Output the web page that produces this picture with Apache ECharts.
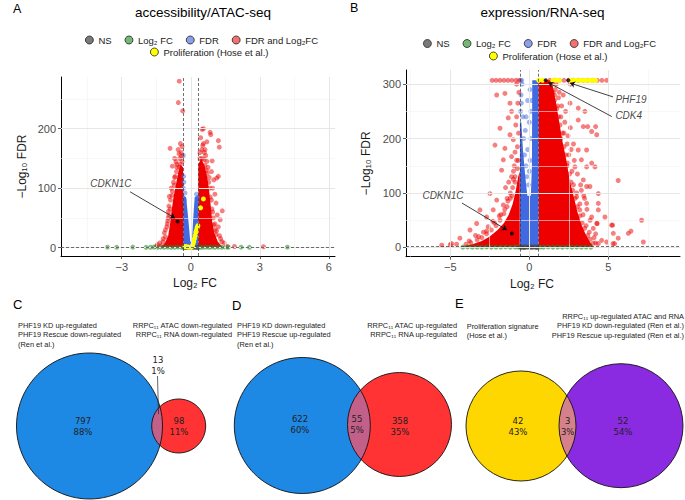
<!DOCTYPE html>
<html><head><meta charset="utf-8">
<script src="https://cdn.jsdelivr.net/npm/echarts@6/dist/echarts.min.js"></script>
<style>html,body{margin:0;padding:0;background:#fff}#c{width:685px;height:500px}</style>
</head><body><div id="c"></div>
<script>
// ---------------- categories ----------------
const CAT_NS = 'NS', CAT_FC = 'Log₂ FC', CAT_FDR = 'FDR', CAT_BOTH = 'FDR and Log₂FC', CAT_PRO = 'Proliferation (Hose et al.)';

// ---------------- Panel A: ATAC-seq (x = log2FC, y = -log10 FDR) ----------------
const atacXTicks = [-3, 0, 3, 6];
const atacYTicks = [0, 100, 200];
const atacFcCut = 0.33;
// dense cores (outline of the solid cloud)
const atacRedCore = [
  [[0.33,1.3],[0.33,140],[0.45,150],[0.6,138],[0.72,118],[0.8,95],[0.87,70],[0.93,45],[1.02,25],[1.18,10],[1.38,1.3]],
  [[-0.33,1.3],[-0.33,135],[-0.45,140],[-0.55,125],[-0.65,105],[-0.75,85],[-0.84,60],[-0.9,40],[-0.98,20],[-1.12,8],[-1.3,1.3]]
];
const atacBlueCore = [
  [[-0.33,1.3],[-0.33,88],[-0.2,85],[-0.1,45],[-0.02,10],[0.05,10],[0.1,45],[0.17,85],[0.33,88],[0.33,1.3]]
];
const atacRed = [[-0.5,280],[-0.54,244],[-0.35,230],[0.49,199],[0.55,200],[0.84,194],[0.87,190],[1.2,180],[1.24,169],[0.52,172],[-0.9,167],[0.59,160],[-0.51,158],[-0.4,154],[-0.64,144],[0.93,146],[0.9,128],[1.2,120],[1.13,117],[-0.8,137],[-0.5,135],[1.0,114],[-0.93,86],[1.37,62],[-0.97,61],[-1.04,35],[-1.1,18],[1.28,47],[1.06,30],[1.0,13],[1.6,2],[1.9,2],[3.16,1.6],[-1.5,2.2],[-1.3,3],[-0.7,150],[-0.6,140],[0.7,145],[0.65,155],[0.75,135],[-0.75,110],[-0.85,100],[0.95,100],[1.05,90],[-0.95,70],[1.1,75],[1.15,55],[-1.0,45],[1.2,35],[-1.15,25],[0.62,165],[0.45,140],[-0.45,140],[-0.38,145],[0.8,118],[-0.68,120],[1.3,15],[-1.2,10],[1.45,8],[-1.45,5],[0.7,178],[0.4,150],
  [0.4,160],[0.5,150],[0.58,148],[0.68,130],[0.78,110],[0.85,85],[0.92,65],[0.98,50],[1.05,40],[1.12,28],[1.25,20],[1.35,10],[0.72,125],[0.82,100],[0.9,80],[0.95,60],[1.0,38],[1.1,22],[0.62,138],[0.48,165],[0.55,175],[0.43,185],
  [-0.42,160],[-0.48,150],[-0.6,135],[-0.7,118],[-0.8,95],[-0.88,80],[-0.95,55],[-1.02,40],[-1.1,30],[-1.2,15],[-1.35,8],[-0.62,128],[-0.72,105],[-0.82,88],[-0.9,65],[-0.98,50],[-0.55,165],[-0.45,175],[-0.38,170]];
const atacBlue = [[-0.32,155],[-0.31,120],[-0.3,110],[-0.32,100],[-0.25,92],[0.3,84],[0.25,90],[-0.28,80],[0.28,75]];
const atacGrey = [[-0.3,0.5],[-0.2,0.3],[-0.1,0.6],[0,0.2],[0.1,0.4],[0.2,0.7],[0.3,0.3]];
const atacGreen = [[-3.62,0.8],[-3.22,0.6],[-2.52,0.9],[-1.94,0.5],[-1.75,0.7],[-1.6,0.9],[-1.45,0.4],[-1.3,0.8],[-1.15,0.6],[-1.0,0.9],[-0.85,0.5],[-0.7,0.7],[-0.55,0.9],[-0.4,0.6],[0.4,0.7],[0.52,0.5],[0.65,0.9],[0.78,0.6],[0.9,0.8],[1.05,0.5],[1.2,0.9],[1.35,0.6],[1.5,0.8],[1.63,0.7],[2.19,0.8],[2.55,0.6],[4.2,0.8]];
const atacYellow = [[-0.25,2],[-0.18,1.5],[-0.1,1],[-0.03,0.8],[0.03,1],[0.07,3],[0.1,6],[0.13,10],[0.16,15],[0.19,20],[0.22,26],[0.25,30],[0.28,34],[0.31,37],[0.43,67],[0.55,82]];
const atacGenes = [{name:'CDKN1C', point:[-0.57,44], text:[-3.47,108], from:[-2.64,94], to:[-0.68,49.5], align:'center'}];

// ---------------- Panel B: RNA-seq ----------------
const rnaXTicks = [-5, 0, 5];
const rnaYTicks = [0, 100, 200, 300];
const rnaFcCut = 0.585;
const rnaRedCore = [
  [[0.6,1.3],[0.6,307],[1.3,307],[1.5,295],[1.7,265],[1.9,230],[2.1,195],[2.35,160],[2.55,125],[2.8,95],[3.05,65],[3.3,42],[3.55,25],[3.8,12],[4.0,4],[4.0,1.3]],
  [[-0.6,1.3],[-0.6,140],[-0.7,130],[-0.85,105],[-1.05,80],[-1.3,60],[-1.6,45],[-2.0,32],[-2.5,20],[-3.0,12],[-3.6,6],[-4.2,2],[-4.2,1.3]]
];
const rnaBlueCore = [
  [[-0.59,1.3],[-0.59,230],[-0.5,230],[-0.4,180],[-0.25,130],[-0.12,95],[0.1,95],[0.17,150],[0.19,307],[0.59,307],[0.59,1.3]]
];
const rnaRed = [
  [5.63,123],[7.11,50],[7.22,10],[6.44,30],[5.28,41],[5.63,17],[4.9,10],[5.3,7],[4.16,148],[3.95,155],[4.37,81],[3.63,112],[4.3,44],[3.42,222],[3.7,222],[3.1,234],[2.15,280],[2.58,265],[3.1,256],[3.52,250],[3.95,213],[4.2,222],[4.27,207],[3.63,179],[3.1,179],[3.3,161],[2.89,148],[3.63,148],[3.42,124],[3.84,112],[4.37,99],[3.0,93],[3.63,81],[3.2,69],[4.37,69],[3.95,56],[4.79,56],[4.27,44],[5.21,41],[6.27,26],[5.32,26],[4.58,13],[5.4,7],[4.37,7],
  [1.6,280],[1.8,260],[2.0,240],[2.2,210],[2.4,190],[2.5,170],[2.7,140],[2.8,115],[3.0,100],[3.2,80],[3.4,60],[3.6,40],[3.8,28],[4.1,18],[4.2,8],[1.9,285],[2.3,250],[2.6,220],[2.4,150],[2.8,190],[3.3,105],[3.5,90],[2.0,200],[1.7,300],[2.6,300],[1.45,300],
  [1.5,285],[1.6,270],[1.75,255],[1.85,240],[1.95,225],[2.1,210],[2.2,185],[2.3,170],[2.45,155],[2.55,135],[2.65,120],[2.75,105],[2.9,90],[3.05,75],[3.2,58],[3.35,45],[3.5,35],[3.7,22],[3.85,15],[4.05,8],[1.65,290],[1.85,275],[2.05,260],[2.25,230],[2.45,205],[2.65,180],[2.85,160],[3.05,135],[3.25,115],[3.45,95],[3.65,70],[3.85,50],[4.05,35],[4.2,25],
  [-2.06,280],[-1.54,283],[-1.22,265],[-1.12,250],[-1.33,238],[-1.85,219],[-1.22,207],[-1.01,198],[-2.17,188],[-1.54,182],[-1.64,161],[-1.12,167],[-1.75,142],[-1.12,130],[-2.49,99],[-2.06,87],[-1.64,78],[-3.12,69],[-2.7,56],[-3.33,44],[-3.75,32],[-2.28,69],[-4.39,17],[-4.91,7],[-5.54,4],[-5.0,5],[-4.6,6],
  [-0.7,160],[-0.75,185],[-0.68,210],[-0.8,240],[-0.72,265],[-0.66,285],[-0.9,175],[-0.85,225],[-0.95,150],[-0.9,120],[-1.2,100],[-1.4,90],[-1.0,140],[-1.3,120],[-1.8,60],[-2.2,45],[-2.7,30],[-3.2,20],[-3.8,12],[-1.5,110],[-0.8,300],
  [-0.75,145],[-0.9,130],[-1.05,110],[-1.2,90],[-1.4,75],[-1.6,62],[-1.85,50],[-2.1,40],[-2.4,32],[-2.7,25],[-3.0,18],[-3.3,14],[-3.7,9],[-4.0,6],[-1.1,95],[-1.35,85],[-1.55,70],[-1.9,58],[-2.3,48],[-2.6,38],[-2.9,28],[-3.4,22],[-0.8,160],[-1.0,125],
  [-2.35,307],[-2.1,307],[-1.85,307],[-1.6,307],[-1.35,307],[-1.1,307],[-0.85,307],[-0.65,307],
  [1.3,307],[1.6,307],[1.9,307],[2.2,307],[2.5,307],[2.8,307],[3.1,307],[3.4,307],[3.7,307],[4.0,307],[4.3,307],[4.6,307],[4.9,307]
];
const rnaBlue = [[-0.55,250],[-0.5,265],[-0.52,280],[-0.45,300],[-0.55,307],[-0.48,307],[-0.35,200],[-0.3,170],[-0.2,150],[-0.15,130],[-0.05,115],[0.0,140],[-0.25,215],[-0.1,180],[0.05,160],[-0.4,240],[0.1,200],[-0.2,240],[0.0,230],[0.1,250],[-0.1,270],[0.05,290],[0.15,270]];
const rnaGrey = [[-0.55,0.6],[-0.4,0.4],[-0.25,0.8],[-0.1,0.5],[0.05,0.7],[0.2,0.4],[0.35,0.9],[0.5,0.6],[-0.5,1.0],[0.45,0.2],[-0.3,0.2],[0.1,1.1]];
const rnaGreen = [[-4.2,0.6],[-3.9,0.9],[-3.6,0.5],[-3.3,0.8],[-3.0,0.6],[-2.7,1.0],[-2.4,0.5],[-2.1,0.8],[-1.8,0.6],[-1.5,0.9],[-1.2,0.5],[-0.9,0.8],[-0.7,0.6],[0.7,0.7],[0.9,0.5],[1.2,0.9],[1.5,0.6],[1.8,0.8],[2.1,0.5],[2.4,0.9],[2.7,0.6],[3.0,0.8],[3.3,0.5],[3.6,0.7],[3.9,0.6]];
const rnaYellow = [[0.6,307],[0.85,307],[1.5,307],[1.7,307],[1.9,307],[2.6,307],[2.8,307],[3.0,307],[3.2,307],[3.4,307],[3.6,307],[3.8,307],[4.0,307],[4.2,307]];
const rnaGenes = [
  {name:'CDKN1C', point:[-1.1,25.8], text:[-5.46,95], from:[-4.26,81.6], to:[-1.41,32], align:'center'},
  {name:'PHF19', point:[2.47,307], text:[5.42,272.6], from:[5.3,276.6], to:[2.58,302], align:'left'},
  {name:'CDK4', point:[1.04,307], text:[5.42,243], from:[5.22,240.5], to:[1.2,303], align:'left'}
];

// ---------------- Venn diagrams C, D, E ----------------
const vennCounts = [[797,13,98],[622,55,358],[42,3,52]];
const vennPercents = [['88%','1%','11%'],['60%','5%','35%'],['43%','3%','54%']];
const vennLeftLabels = [
  ['PHF19 KD up-regulated','PHF19 Rescue down-regulated','(Ren et al.)'],
  ['PHF19 KD down-regulated','PHF19 Rescue up-regulated','(Ren et al.)'],
  ['Proliferation signature','(Hose et al.)']
];
const vennRightLabels = [
  ['RRPC₁₁ ATAC down-regulated','RRPC₁₁ RNA down-regulated'],
  ['RRPC₁₁ ATAC up-regulated','RRPC₁₁ RNA up-regulated'],
  ['RRPC₁₁ up-regulated ATAC and RNA','PHF19 KD down-regulated (Ren et al.)','PHF19 Rescue up-regulated (Ren et al.)']
];

// ---------------- layout & style (kept apart from data) ----------------
const FONT = 'Liberation Sans, Arial, Helvetica, sans-serif';
const COL = {NS:'#4d4d4d', FC:'#228B22', FDR:'#4169E1', BOTH:'#EE0000', PRO:'#FFFF00'};
const LEGCOL = {[CAT_NS]:'#7a7a7a',[CAT_FC]:'#74b874',[CAT_FDR]:'#8aa0ec',[CAT_BOTH]:'#f27272',[CAT_PRO]:'#ffff00'};
const vennLayout = [
  {c1:[89.5,426], r1:73, c2:[178.7,426], r2:27, fill:['#1e88e5','#ff3333','#c2608a'], t:[[83,426.3],[158,365.5],[179,426.3]], leader:[[157.5,376],[158.5,414]],
   left:[18,325.7], right:[232,325.7], letter:[13,304,'C']},
  {c1:[302.3,425.5], r1:68, c2:[399.5,424.5], r2:52, fill:['#1e88e5','#ff3333','#c2608a'], t:[[300,424],[357,424],[400,426.7]],
   left:[237,325.7], right:[457,325.7], letter:[232,305,'D']},
  {c1:[521,426], r1:55, c2:[621,425.7], r2:62, fill:['#ffd700','#8a2be2','#d5818c'], t:[[518,426],[567.7,426],[623,426]],
   left:[466.7,326], right:[684,316.7], letter:[455,303,'E']}
];

const minus = v => String(v).replace('-', '−');

function axisPair(gi, xr, yr, xt, yt, yGap, xPad) {
  const nts = {fontFamily:FONT, fontSize:12, fontWeight:400, color:'#1a1a1a'};
  const common = {
    type:'value', gridIndex:gi, splitLine:{show:false},
    axisLine:{show:true, onZero:false, lineStyle:{color:'#000', width:1}},
    axisTick:{show:true, length:3, lineStyle:{color:'#333', width:0.8}},
    nameLocation:'middle'
  };
  const x = Object.assign({}, common, {min:xr[0], max:xr[1], name:'Log₂ FC', nameGap:21,
    nameTextStyle:Object.assign({}, nts, {padding:xPad}),
    axisTick:Object.assign({}, common.axisTick, {customValues:xt}),
    axisLabel:{customValues:xt, formatter:minus, color:'#4d4d4d', fontSize:11, fontFamily:FONT, margin:5}});
  const y = Object.assign({}, common, {min:yr[0], max:yr[1], name:'−Log₁₀ FDR', nameGap:yGap, nameRotate:90,
    nameTextStyle:Object.assign({}, nts),
    axisTick:Object.assign({}, common.axisTick, {customValues:yt}),
    axisLabel:{customValues:yt, formatter:minus, color:'#4d4d4d', fontSize:11, fontFamily:FONT, margin:5}});
  return [x, y];
}

function gridLines(gi, xMaj, xMin, yMaj, yMin) {
  const maj = {color:'#e6e6e6', width:1, type:'solid'}, mi = {color:'#f1f1f1', width:0.6, type:'solid'};
  return {type:'scatter', xAxisIndex:gi, yAxisIndex:gi, data:[], z:1, silent:true,
    markLine:{silent:true, symbol:['none','none'], label:{show:false}, animation:false,
      data:[].concat(xMin.map(v=>({xAxis:v, lineStyle:mi})), yMin.map(v=>({yAxis:v, lineStyle:mi})),
                     xMaj.map(v=>({xAxis:v, lineStyle:maj})), yMaj.map(v=>({yAxis:v, lineStyle:maj})))}};
}

function poly(name, color, polys, gi) {
  return {type:'custom', name, xAxisIndex:gi, yAxisIndex:gi, z:2, silent:true,
    data: polys.map((p,i)=>[p[0][0], p[0][1], i]),
    renderItem:(params, api) => ({type:'polygon', shape:{points: polys[api.value(2)].map(v=>api.coord(v))}, style:{fill:color}})};
}
function pts(name, color, data, gi, op, z) {
  return {type:'scatter', name, xAxisIndex:gi, yAxisIndex:gi, data, symbolSize:5, z:z||3, silent:true,
    itemStyle:{color, opacity:op}};
}
function thresholds(gi, fc) {
  const ls = {color:'#333', width:0.7, type:[3,2]};
  return {type:'scatter', xAxisIndex:gi, yAxisIndex:gi, data:[], z:5, silent:true,
    markLine:{silent:true, symbol:['none','none'], label:{show:false}, animation:false,
      data:[{xAxis:-fc, lineStyle:ls},{xAxis:fc, lineStyle:ls},{yAxis:1.3, lineStyle:ls}]}};
}
function genes(gi, list) {
  return [
    {type:'scatter', xAxisIndex:gi, yAxisIndex:gi, z:6, silent:true, symbolSize:4, itemStyle:{color:'#000'},
      data:list.map(g=>g.point),
      markLine:{silent:true, symbol:['none','arrow'], symbolSize:5, label:{show:false}, animation:false,
        lineStyle:{color:'#111', width:0.8, type:'solid'},
        data:list.map(g=>[{coord:g.from},{coord:g.to}])}},
    {type:'scatter', xAxisIndex:gi, yAxisIndex:gi, z:6, silent:true, symbolSize:1, itemStyle:{color:'rgba(0,0,0,0)'},
      data:list.map(g=>({name:g.name, value:g.text, label:{show:true, formatter:'{b}', position: g.align==='left'?'right':'inside', distance:0,
        fontStyle:'italic', fontSize:10, fontFamily:FONT, color:'#111'}}))}
  ];
}

function vennItem(params, api) {
  const i = api.value(2);
  const L = vennLayout[i];
  const p1 = api.coord(L.c1), p2 = api.coord(L.c2);
  const r1 = Math.abs(api.size([L.r1, 0])[0]), r2 = Math.abs(api.size([L.r2, 0])[0]);
  const dx = p2[0]-p1[0], dy = p2[1]-p1[1], d = Math.hypot(dx, dy);
  const a = (r1*r1 - r2*r2 + d*d) / (2*d);
  const al1 = Math.acos(a/r1), al2 = Math.acos((d-a)/r2), th = Math.atan2(dy, dx);
  const lens = [];
  for (let k=0;k<=40;k++){const t=th-al1+2*al1*k/40; lens.push([p1[0]+r1*Math.cos(t), p1[1]+r1*Math.sin(t)]);}
  for (let k=0;k<=40;k++){const t=th+Math.PI-al2+2*al2*k/40; lens.push([p2[0]+r2*Math.cos(t), p2[1]+r2*Math.sin(t)]);}
  const children = [
    {type:'circle', shape:{cx:p1[0], cy:p1[1], r:r1}, style:{fill:L.fill[0]}},
    {type:'circle', shape:{cx:p2[0], cy:p2[1], r:r2}, style:{fill:L.fill[1]}},
    {type:'polygon', shape:{points:lens}, style:{fill:L.fill[2]}},
    {type:'circle', shape:{cx:p1[0], cy:p1[1], r:r1}, style:{fill:'none', stroke:'#111', lineWidth:0.9}},
    {type:'circle', shape:{cx:p2[0], cy:p2[1], r:r2}, style:{fill:'none', stroke:'#111', lineWidth:0.9}}
  ];
  if (L.leader) {
    const a0 = api.coord(L.leader[0]), a1 = api.coord(L.leader[1]);
    children.push({type:'line', shape:{x1:a0[0], y1:a0[1], x2:a1[0], y2:a1[1]}, style:{stroke:'#222', lineWidth:0.7}});
  }
  L.t.forEach((t, j) => {
    const c = api.coord(t);
    children.push({type:'text', x:c[0], y:c[1], style:{text: vennCounts[i][j] + '\n' + vennPercents[i][j],
      align:'center', verticalAlign:'middle', fontSize:8.5, lineHeight:11, fontFamily:'DejaVu Sans, sans-serif', fill:'#222'}});
  });
  return {type:'group', children};
}

// static texts
const graphic = [
  {type:'text', x:13, y:8.5, style:{text:'A', fontSize:12.5, fontFamily:FONT, fill:'#000', verticalAlign:'middle'}},
  {type:'text', x:203, y:12.5, style:{text:'accessibility/ATAC-seq', fontSize:13.5, fontFamily:FONT, fill:'#000', align:'center', verticalAlign:'middle'}},
  {type:'text', x:350, y:7.5, style:{text:'B', fontSize:12.5, fontFamily:FONT, fill:'#000', verticalAlign:'middle'}},
  {type:'text', x:542.5, y:12.5, style:{text:'expression/RNA-seq', fontSize:13.5, fontFamily:FONT, fill:'#000', align:'center', verticalAlign:'middle'}}
];
vennLayout.forEach((L, i) => {
  graphic.push({type:'text', x:L.letter[0], y:L.letter[1], style:{text:L.letter[2], fontSize:13, fontFamily:FONT, fill:'#000', verticalAlign:'middle'}});
  vennLeftLabels[i].forEach((s, j) => graphic.push({type:'text', x:L.left[0], y:L.left[1]+j*9.2,
    style:{text:s, fontSize:7.4, fontFamily:FONT, fill:'#222', verticalAlign:'middle'}}));
  vennRightLabels[i].forEach((s, j) => graphic.push({type:'text', x:L.right[0], y:L.right[1]+j*9.2,
    style:{text:s, fontSize:7.4, fontFamily:FONT, fill:'#222', align:'right', verticalAlign:'middle'}}));
});

function legendItems(names) {
  return names.map(n => ({name:n, icon:'circle', itemStyle:{color:LEGCOL[n], borderColor:'#222', borderWidth:0.8, opacity:1}}));
}
const legBase = {orient:'horizontal', itemWidth:8, itemHeight:8, itemGap:13, selectedMode:false, padding:0,
  textStyle:{fontFamily:FONT, fontSize:9.5, color:'#222', padding:[0,0,0,0]}};
const row1 = [CAT_NS, CAT_FC, CAT_FDR, CAT_BOTH];

const [ax0, ay0] = axisPair(0, [-5.64, 6.27], [-14, 287], atacXTicks, atacYTicks, 33, [0,6,0,0]);
const [ax1, ay1] = axisPair(1, [-7.8, 9.54], [-17, 326], rnaXTicks, rnaYTicks, 34, [0,22,0,0]);

const option = {
  animation:false,
  grid:[
    {left:61, top:77, width:274, height:179},
    {left:406, top:70, width:274, height:186.7},
    {left:0, top:0, width:685, height:500}
  ],
  xAxis:[ax0, ax1, {type:'value', gridIndex:2, min:0, max:685, show:false}],
  yAxis:[ay0, ay1, {type:'value', gridIndex:2, min:0, max:500, inverse:true, show:false}],
  legend:[
    Object.assign({}, legBase, {data:legendItems(row1), left:85, top:35}),
    Object.assign({}, legBase, {data:legendItems([CAT_PRO]), left:150, top:47}),
    Object.assign({}, legBase, {data:legendItems(row1), left:423, top:38.5}),
    Object.assign({}, legBase, {data:legendItems([CAT_PRO]), left:489, top:51})
  ],
  graphic,
  series:[
    gridLines(0, atacXTicks, [-4.5,-1.5,1.5,4.5], atacYTicks, [50,150,250]),
    poly(CAT_BOTH, COL.BOTH, atacRedCore, 0),
    poly(CAT_FDR, COL.FDR, atacBlueCore, 0),
    pts(CAT_NS, COL.NS, atacGrey, 0, 0.8),
    pts(CAT_FDR, COL.FDR, atacBlue, 0, 0.5),
    pts(CAT_BOTH, COL.BOTH, atacRed, 0, 0.5),
    pts(CAT_FC, COL.FC, atacGreen, 0, 0.55),
    pts(CAT_PRO, COL.PRO, atacYellow, 0, 1, 4),
    thresholds(0, atacFcCut),
    ...genes(0, atacGenes),

    gridLines(1, rnaXTicks, [-7.5,-2.5,2.5,7.5], rnaYTicks, [50,150,250]),
    poly(CAT_BOTH, COL.BOTH, rnaRedCore, 1),
    poly(CAT_FDR, COL.FDR, rnaBlueCore, 1),
    pts(CAT_FDR, COL.FDR, rnaBlue, 1, 0.5),
    pts(CAT_BOTH, COL.BOTH, rnaRed, 1, 0.5),
    pts(CAT_FC, COL.FC, rnaGreen, 1, 0.6),
    pts(CAT_NS, COL.NS, rnaGrey, 1, 0.8),
    pts(CAT_PRO, COL.PRO, rnaYellow, 1, 1, 4),
    thresholds(1, rnaFcCut),
    ...genes(1, rnaGenes),

    {type:'custom', xAxisIndex:2, yAxisIndex:2, z:10, silent:true,
      data: vennLayout.map((L,i)=>[L.c1[0], L.c1[1], i]), renderItem:vennItem}
  ]
};
const chart = echarts.init(document.getElementById('c'), null, {renderer:'svg'});
chart.setOption(option);
</script></body></html>
